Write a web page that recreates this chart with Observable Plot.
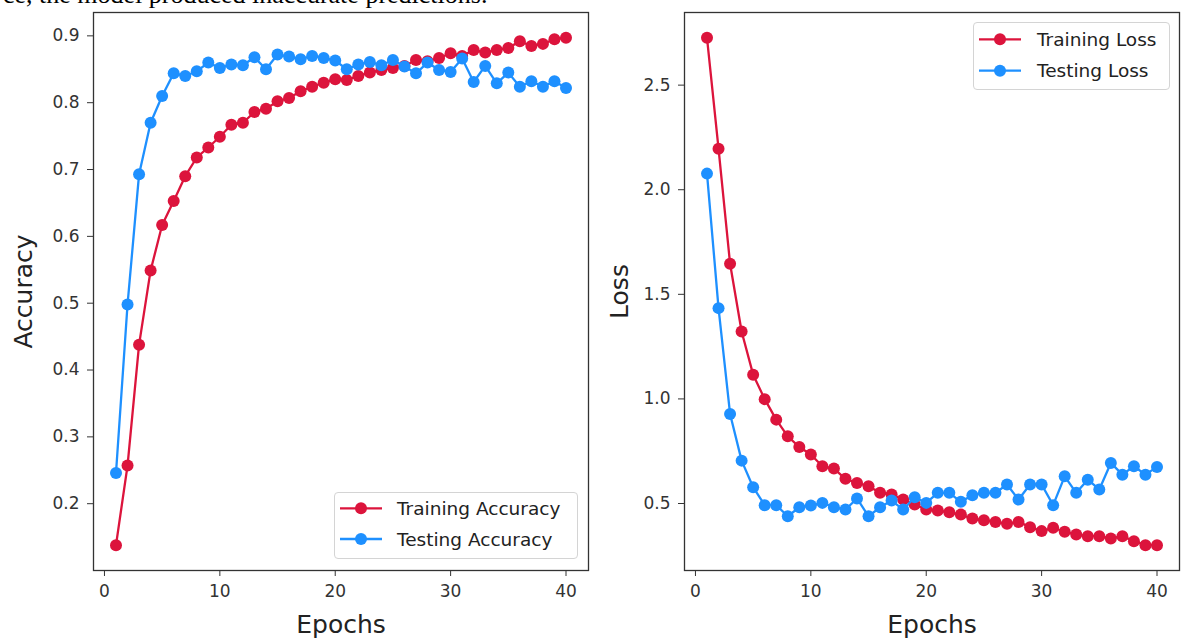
<!DOCTYPE html>
<html>
<head>
<meta charset="utf-8">
<script src="https://cdn.jsdelivr.net/npm/d3@7"></script>
<script src="https://cdn.jsdelivr.net/npm/@observablehq/plot@0.6"></script>
<style>
  html, body { margin: 0; padding: 0; background: #fff; overflow: hidden; }
  #root { position: relative; width: 1181px; height: 638px; background: #fff; }
  .panel { position: absolute; top: 0; }
  .legend { position: absolute; box-sizing: border-box; border: 1px solid #d4d4d4; border-radius: 4px; background: rgba(255,255,255,0.8); }
  .overlay { position: absolute; left: 0; top: 0; pointer-events: none; }
</style>
</head>
<body>
<div id="root"></div>
<script>
// ---------- data ----------
const epochs = d3.range(1, 41);
const trainAcc = [0.138,0.257,0.438,0.549,0.617,0.653,0.690,0.718,0.733,0.749,0.767,0.770,0.786,0.791,0.802,0.807,0.817,0.824,0.830,0.835,0.834,0.840,0.845,0.849,0.852,0.855,0.864,0.862,0.867,0.874,0.870,0.879,0.875,0.879,0.882,0.892,0.885,0.888,0.895,0.897];
const testAcc  = [0.246,0.498,0.693,0.770,0.810,0.844,0.840,0.847,0.860,0.852,0.857,0.856,0.868,0.850,0.872,0.869,0.865,0.870,0.867,0.863,0.850,0.857,0.861,0.856,0.864,0.854,0.844,0.860,0.849,0.846,0.866,0.831,0.855,0.829,0.845,0.824,0.832,0.824,0.832,0.822];
const trainLoss = [2.726,2.196,1.646,1.322,1.116,0.999,0.901,0.821,0.770,0.734,0.678,0.667,0.618,0.598,0.583,0.551,0.543,0.519,0.495,0.471,0.467,0.458,0.447,0.428,0.420,0.412,0.403,0.412,0.387,0.368,0.384,0.365,0.352,0.344,0.344,0.333,0.344,0.320,0.301,0.301];
const testLoss  = [2.077,1.434,0.928,0.705,0.578,0.492,0.492,0.439,0.482,0.490,0.503,0.482,0.471,0.524,0.439,0.482,0.514,0.471,0.530,0.503,0.551,0.551,0.508,0.540,0.551,0.551,0.591,0.519,0.591,0.591,0.492,0.630,0.551,0.614,0.567,0.694,0.638,0.678,0.638,0.675];
const xTicks = [0, 10, 20, 30, 40];
const accTicks = [0.2, 0.3, 0.4, 0.5, 0.6, 0.7, 0.8, 0.9];
const lossTicks = [0.5, 1.0, 1.5, 2.0, 2.5];
const accLegend = ["Training Accuracy", "Testing Accuracy"];
const lossLegend = ["Training Loss", "Testing Loss"];
const xTitle = "Epochs";
const accTitle = "Accuracy";
const lossTitle = "Loss";
const captionText = "ce, the model produced inaccurate predictions.";

const RED = "#DC143C", BLUE = "#1E90FF";
const FONT = "DejaVu Sans, Liberation Sans, sans-serif";

function rowsOf(values) { return values.map((v, i) => ({epoch: epochs[i], value: v})); }

function panel({train, test, yTicks, yTitle, width, marginLeft, marginRight, yTitleDx}) {
  const all = train.concat(test);
  const lo = d3.min(all), hi = d3.max(all), pad = (hi - lo) * 0.05;
  const xlo = d3.min(epochs), xhi = d3.max(epochs), xpad = (xhi - xlo) * 0.05;
  const tr = rowsOf(train), te = rowsOf(test);
  return Plot.plot({
    width, height: 638,
    marginLeft, marginRight, marginTop: 12, marginBottom: 68,
    style: {fontFamily: FONT, background: "transparent", color: "#333", overflow: "visible"},
    x: {domain: [xlo - xpad, xhi + xpad]},
    y: {domain: [lo - pad, hi + pad]},
    marks: [
      Plot.line(tr, {x: "epoch", y: "value", stroke: RED, strokeWidth: 2.3}),
      Plot.dot(tr, {x: "epoch", y: "value", r: 6, fill: RED, stroke: "none"}),
      Plot.line(te, {x: "epoch", y: "value", stroke: BLUE, strokeWidth: 2.3}),
      Plot.dot(te, {x: "epoch", y: "value", r: 6, fill: BLUE, stroke: "none"}),
      Plot.frame({stroke: "#333", strokeWidth: 1.3}),
      Plot.axisX({ticks: xTicks, tickSize: 6, tickPadding: 8, fontSize: 17, label: null, tickFormat: d => String(d), stroke: "#333"}),
      Plot.axisY({ticks: yTicks, tickSize: 6, tickPadding: 8, fontSize: 17, label: null, tickFormat: d3.format(".1f"), stroke: "#333"}),
      Plot.text([xTitle], {text: d => d, frameAnchor: "bottom", dy: 62, textAnchor: "middle", lineAnchor: "bottom", fontSize: 25, fill: "#222"}),
      Plot.text([yTitle], {text: d => d, frameAnchor: "left", dx: yTitleDx, textAnchor: "middle", lineAnchor: "bottom", rotate: -90, fontSize: 25, fill: "#222"})
    ]
  });
}

function legend({left, top, width, height, labels, lineX0, lineX1, rowYs, textX}) {
  const div = document.createElement("div");
  div.className = "legend";
  Object.assign(div.style, {left: left + "px", top: top + "px", width: width + "px", height: height + "px"});
  const ns = "http://www.w3.org/2000/svg";
  const svg = document.createElementNS(ns, "svg");
  svg.setAttribute("width", width); svg.setAttribute("height", height);
  svg.style.position = "absolute"; svg.style.left = "-1px"; svg.style.top = "-1px"; svg.style.overflow = "visible";
  [RED, BLUE].forEach((c, i) => {
    const y = rowYs[i];
    const ln = document.createElementNS(ns, "line");
    ln.setAttribute("x1", lineX0); ln.setAttribute("x2", lineX1); ln.setAttribute("y1", y); ln.setAttribute("y2", y);
    ln.setAttribute("stroke", c); ln.setAttribute("stroke-width", 2.3);
    svg.appendChild(ln);
    const dot = document.createElementNS(ns, "circle");
    dot.setAttribute("cx", (lineX0 + lineX1) / 2); dot.setAttribute("cy", y); dot.setAttribute("r", 6); dot.setAttribute("fill", c);
    svg.appendChild(dot);
    const t = document.createElementNS(ns, "text");
    t.setAttribute("x", textX); t.setAttribute("y", y); t.setAttribute("dy", "0.36em");
    t.setAttribute("font-family", FONT); t.setAttribute("font-size", 18.5); t.setAttribute("fill", "#222");
    t.textContent = labels[i];
    svg.appendChild(t);
  });
  div.appendChild(svg);
  return div;
}

const root = document.getElementById("root");

const left = panel({train: trainAcc, test: testAcc, yTicks: accTicks, yTitle: accTitle, width: 600, marginLeft: 93, marginRight: 12, yTitleDx: -62});
left.classList.add("panel"); left.style.left = "0px";
root.appendChild(left);

const right = panel({train: trainLoss, test: testLoss, yTicks: lossTicks, yTitle: lossTitle, width: 591, marginLeft: 94, marginRight: 2, yTitleDx: -57});
right.classList.add("panel"); right.style.left = "590px";
root.appendChild(right);

// legends (coordinates relative to the legend box)
root.appendChild(legend({left: 334, top: 492, width: 244, height: 67, labels: accLegend,
  lineX0: 6, lineX1: 48, rowYs: [16.3, 47], textX: 63}));
root.appendChild(legend({left: 973, top: 22, width: 197, height: 68, labels: lossLegend,
  lineX0: 6, lineX1: 48, rowYs: [17.3, 48.7], textX: 64}));

// clipped text line from the surrounding document at the very top (cut off, as in the source image)
const ns = "http://www.w3.org/2000/svg";
const cap = document.createElementNS(ns, "svg");
cap.setAttribute("class", "overlay"); cap.setAttribute("width", 1181); cap.setAttribute("height", 12);
const ct = document.createElementNS(ns, "text");
ct.setAttribute("x", 3); ct.setAttribute("y", 3);
ct.setAttribute("font-family", "Liberation Serif, Times New Roman, serif"); ct.setAttribute("font-size", 26); ct.setAttribute("fill", "#000");
ct.textContent = captionText;
cap.appendChild(ct);
root.appendChild(cap);
</script>
</body>
</html>
